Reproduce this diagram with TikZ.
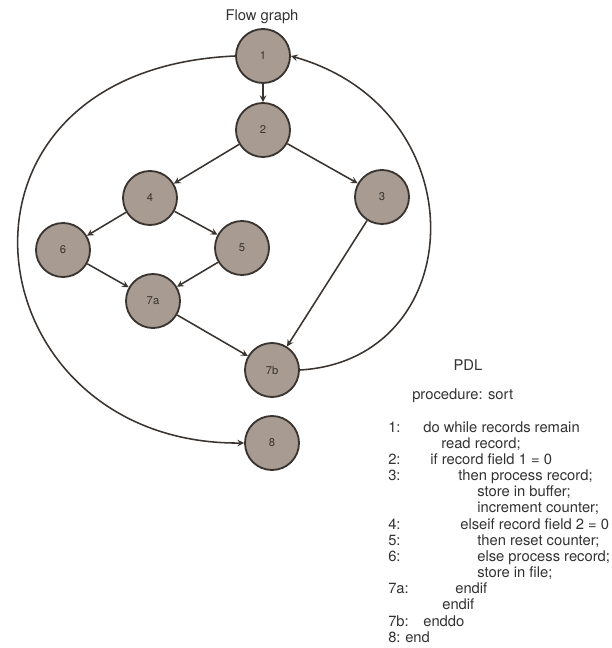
\documentclass[tikz,border=0pt]{standalone}
\usepackage{fontspec}
\setmainfont{TeX Gyre Heros}

\definecolor{nodefill}{RGB}{168,155,145}
\definecolor{inkgray}{RGB}{58,52,48}
\definecolor{textgray}{RGB}{50,50,50}

\begin{document}
\begin{tikzpicture}[x=0.025cm, y=-0.025cm,
    vertex/.style={circle, draw=inkgray, line width=1.3pt,
              fill=nodefill, minimum size=1.35cm, inner sep=0pt,
              text=inkgray, font=\fontsize{8}{9}\selectfont},
    caption/.style={text=textgray, font=\fontsize{10.5}{11.5}\selectfont},
    arrow/.style={->, >=stealth, draw=inkgray, line width=1.1pt}
]
    \useasboundingbox (0,0) rectangle (611,648);

    % flow graph
    \node[caption] (title) at (262,17) {Flow graph};
    \node[vertex] (n1)  at (263,56)  {1};
    \node[vertex] (n2)  at (263,130) {2};
    \node[vertex] (n4)  at (150,198) {4};
    \node[vertex] (n3)  at (382,197) {3};
    \node[vertex] (n6)  at (63,250)  {6};
    \node[vertex] (n5)  at (242,248) {5};
    \node[vertex] (n7a) at (153,301) {7a};
    \node[vertex] (n7b) at (272,370) {7b};
    \node[vertex] (n8)  at (272,443) {8};

    \draw[arrow] (n1) -- (n2);
    \draw[arrow] (n2) -- (n4);
    \draw[arrow] (n2) -- (n3);
    \draw[arrow] (n4) -- (n6);
    \draw[arrow] (n4) -- (n5);
    \draw[arrow] (n6) -- (n7a);
    \draw[arrow] (n5) -- (n7a);
    \draw[arrow] (n7a) -- (n7b);
    \draw[arrow] (n3) -- (n7b);
    % loop back and exit
    \draw[arrow] (n7b.east) .. controls (470,360) and (480,110) .. (n1.east);
    \draw[arrow] (n1.west) .. controls (-80,70) and (-30,445) .. (n8.west);

    % PDL listing
    \node[caption] (pdl) at (468,365) {PDL};
    \node[caption, anchor=base west, inner sep=0pt] (proc) at (412,399)
        {procedure: sort};
    \node[caption, anchor=base west, inner sep=0pt] (code) at (388,432)
        {\renewcommand{\arraystretch}{1}%
         \begin{tabular}[t]{@{}l@{}}
         \rlap{1:}\hspace*{0.875cm}do while records remain\\
         \hspace*{1.325cm}read record;\\
         \rlap{2:}\hspace*{1.05cm}if record field 1 = 0\\
         \rlap{3:}\hspace*{1.75cm}then process record;\\
         \hspace*{2.225cm}store in buffer;\\
         \hspace*{2.225cm}increment counter;\\
         \rlap{4:}\hspace*{1.8cm}elseif record field 2 = 0\\
         \rlap{5:}\hspace*{2.225cm}then reset counter;\\
         \rlap{6:}\hspace*{2.225cm}else process record;\\
         \hspace*{2.225cm}store in file;\\
         \rlap{7a:}\hspace*{1.675cm}endif\\
         \hspace*{1.35cm}endif\\
         \rlap{7b:}\hspace*{0.875cm}enddo\\
         \rlap{8:}\hspace*{0.425cm}end
         \end{tabular}};
\end{tikzpicture}
\end{document}
